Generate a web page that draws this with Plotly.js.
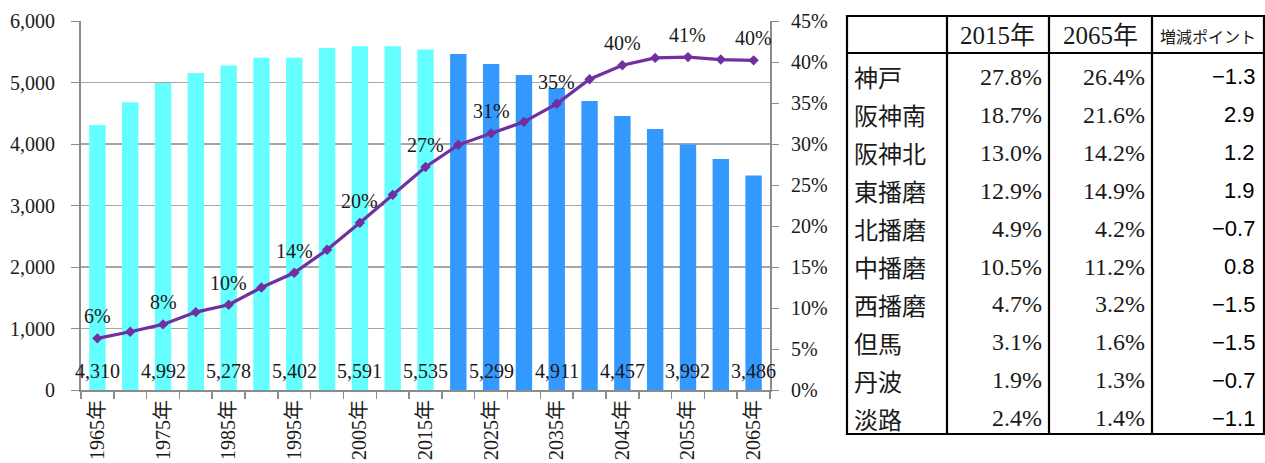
<!DOCTYPE html>
<html>
<head>
<meta charset="utf-8">
<script src="https://cdn.plot.ly/plotly-3.0.1.min.js"></script>
<style>
  html, body { margin: 0; padding: 0; background: #fff; }
  #chart { width: 1265px; height: 463px; }
</style>
</head>
<body>
<div id="chart"></div>
<script>
// ---- data ----
const years = [1965, 1970, 1975, 1980, 1985, 1990, 1995, 2000, 2005, 2010, 2015,
               2020, 2025, 2030, 2035, 2040, 2045, 2050, 2055, 2060, 2065];
const actualPop = [4310, 4678, 4992, 5154, 5278, 5404, 5402, 5561, 5591, 5588, 5535];
const projPop = [5463, 5299, 5122, 4911, 4699, 4457, 4244, 3992, 3756, 3486];
const agingRate = [6.3, 7.1, 8.0, 9.5, 10.4, 12.5, 14.3, 17.1, 20.4, 23.8, 27.2,
                   29.9, 31.3, 32.7, 34.9, 37.9, 39.6, 40.5, 40.6, 40.3, 40.2];

const tableHeader = ['', '2015年', '2065年', '増減ポイント'];
const regions = ['神戸', '阪神南', '阪神北', '東播磨', '北播磨', '中播磨', '西播磨', '但馬', '丹波', '淡路'];
const share2015 = [27.8, 18.7, 13.0, 12.9, 4.9, 10.5, 4.7, 3.1, 1.9, 2.4];
const share2065 = [26.4, 21.6, 14.2, 14.9, 4.2, 11.2, 3.2, 1.6, 1.3, 1.4];
const changePts = [-1.3, 2.9, 1.2, 1.9, -0.7, 0.8, -1.5, -1.5, -0.7, -1.1];

// ---- derived ----
const cats = years.map(y => y + '年');
const actualCats = cats.slice(0, actualPop.length);
const projCats = cats.slice(actualPop.length);
const allPop = actualPop.concat(projPop);
const tickText = cats.map((c, i) => i % 2 === 0 ? c : '');

const W = 1265, H = 463;
const M = {l: 81, r: 495, t: 21, b: 73};
const PW = W - M.l - M.r, PH = H - M.t - M.b;
const px = x => (x - M.l) / PW;
const py = y => (H - M.b - y) / PH;

const serif = "'Liberation Serif', 'Noto Sans CJK JP', serif";
const gothic = "'Noto Sans CJK JP', 'Liberation Sans', sans-serif";
const sans = "'Liberation Sans', Arial, sans-serif";
const txtColor = '#1a1a1a';

const traces = [
  {type: 'bar', x: actualCats, y: actualPop, marker: {color: '#66FFFF'}, hoverinfo: 'x+y', showlegend: false},
  {type: 'bar', x: projCats, y: projPop, marker: {color: '#3399FF'}, hoverinfo: 'x+y', showlegend: false},
  {type: 'scatter', mode: 'lines+markers', x: cats, y: agingRate, yaxis: 'y2',
   line: {color: '#7030A0', width: 3.2}, marker: {symbol: 'diamond', size: 8, color: '#7030A0'},
   showlegend: false}
];

const annotations = [];
// bar value labels and rate labels (every other category)
cats.forEach((c, i) => {
  if (i % 2 === 0) {
    annotations.push({x: c, y: 0, xref: 'x', yref: 'y', yanchor: 'middle', yshift: 19,
      text: allPop[i].toLocaleString('en-US'), showarrow: false,
      font: {family: serif, size: 20, color: txtColor}});
    annotations.push({x: c, y: agingRate[i], xref: 'x', yref: 'y2', yanchor: 'middle', yshift: 22,
      text: Math.round(agingRate[i]) + '%', showarrow: false,
      font: {family: serif, size: 20, color: txtColor}});
  }
});

// table
const colX = [847, 947, 1049, 1152, 1264];
const tTop = 16, tHeadBot = 53, tBot = 434;
const row0 = 76.7, rowH = 37.96;
const shapes = [];
const lineStyle = {color: '#000', width: 2.2};
shapes.push({type: 'rect', xref: 'paper', yref: 'paper', x0: px(colX[0]), x1: px(colX[4]),
             y0: py(tBot), y1: py(tTop), line: lineStyle});
shapes.push({type: 'line', xref: 'paper', yref: 'paper', x0: px(colX[0]), x1: px(colX[4]),
             y0: py(tHeadBot), y1: py(tHeadBot), line: lineStyle});
for (let k = 1; k < 4; k++) {
  shapes.push({type: 'line', xref: 'paper', yref: 'paper', x0: px(colX[k]), x1: px(colX[k]),
               y0: py(tBot), y1: py(tTop), line: lineStyle});
}
// header
const headY = (tTop + tHeadBot) / 2 + 1;
tableHeader.forEach((h, k) => {
  if (!h) return;
  const cx = (colX[k] + colX[k + 1]) / 2;
  const isPts = k === 3;
  annotations.push({x: px(cx), y: py(headY), xref: 'paper', yref: 'paper', xanchor: 'center', yanchor: 'middle',
    text: h, showarrow: false,
    font: {family: isPts ? gothic : serif, size: isPts ? 16 : 25, color: txtColor}});
});
const fmtPct = v => v.toFixed(1) + '%';
const fmtPts = v => (v < 0 ? '\u2212' : '') + Math.abs(v).toFixed(1);
regions.forEach((r, i) => {
  const cy = row0 + rowH * i;
  annotations.push({x: px(852), y: py(cy), xref: 'paper', yref: 'paper', xanchor: 'left', yanchor: 'middle',
    text: r, showarrow: false, font: {family: gothic, size: 24, color: txtColor}});
  annotations.push({x: px(1044), y: py(cy), xref: 'paper', yref: 'paper', xanchor: 'right', yanchor: 'middle',
    text: fmtPct(share2015[i]), showarrow: false, font: {family: serif, size: 24, color: txtColor}});
  annotations.push({x: px(1147), y: py(cy), xref: 'paper', yref: 'paper', xanchor: 'right', yanchor: 'middle',
    text: fmtPct(share2065[i]), showarrow: false, font: {family: serif, size: 24, color: txtColor}});
  annotations.push({x: px(1257), y: py(cy), xref: 'paper', yref: 'paper', xanchor: 'right', yanchor: 'middle',
    text: fmtPts(changePts[i]), showarrow: false, font: {family: sans, size: 22, color: '#000'}});
});

const axisGray = '#8c8c8c';
const layout = {
  width: W, height: H,
  margin: M,
  paper_bgcolor: '#fff', plot_bgcolor: '#fff',
  barmode: 'overlay', bargap: 0.5,
  font: {family: serif, size: 20, color: txtColor},
  xaxis: {
    type: 'category', categoryorder: 'array', categoryarray: cats,
    range: [-0.5, cats.length - 0.5], autorange: false,
    tickvals: cats, ticktext: tickText, tickangle: -90, tickson: 'boundaries',
    ticks: 'outside', ticklen: 7, tickcolor: axisGray, tickwidth: 1.5,
    showline: true, linecolor: axisGray, linewidth: 2, showgrid: false,
    tickfont: {family: serif, size: 20, color: txtColor}, fixedrange: true
  },
  yaxis: {
    range: [0, 6000], dtick: 1000, tickformat: ',', showgrid: true, gridcolor: '#a6a6a6', gridwidth: 1.5,
    showline: true, linecolor: axisGray, linewidth: 2, ticks: 'outside', ticklen: 8, tickcolor: axisGray,
    ticklabelstandoff: 12, zeroline: false,
    tickfont: {family: serif, size: 20, color: txtColor}
  },
  yaxis2: {
    range: [0, 45], dtick: 5, ticksuffix: '%', overlaying: 'y', side: 'right', showgrid: false,
    showline: true, linecolor: axisGray, linewidth: 2, ticks: 'outside', ticklen: 7, tickcolor: axisGray,
    ticklabelstandoff: 8, zeroline: false,
    tickfont: {family: serif, size: 20, color: txtColor}
  },
  annotations: annotations,
  shapes: shapes,
  showlegend: false
};

Plotly.newPlot('chart', traces, layout, {displayModeBar: false, staticPlot: true});
</script>
</body>
</html>
